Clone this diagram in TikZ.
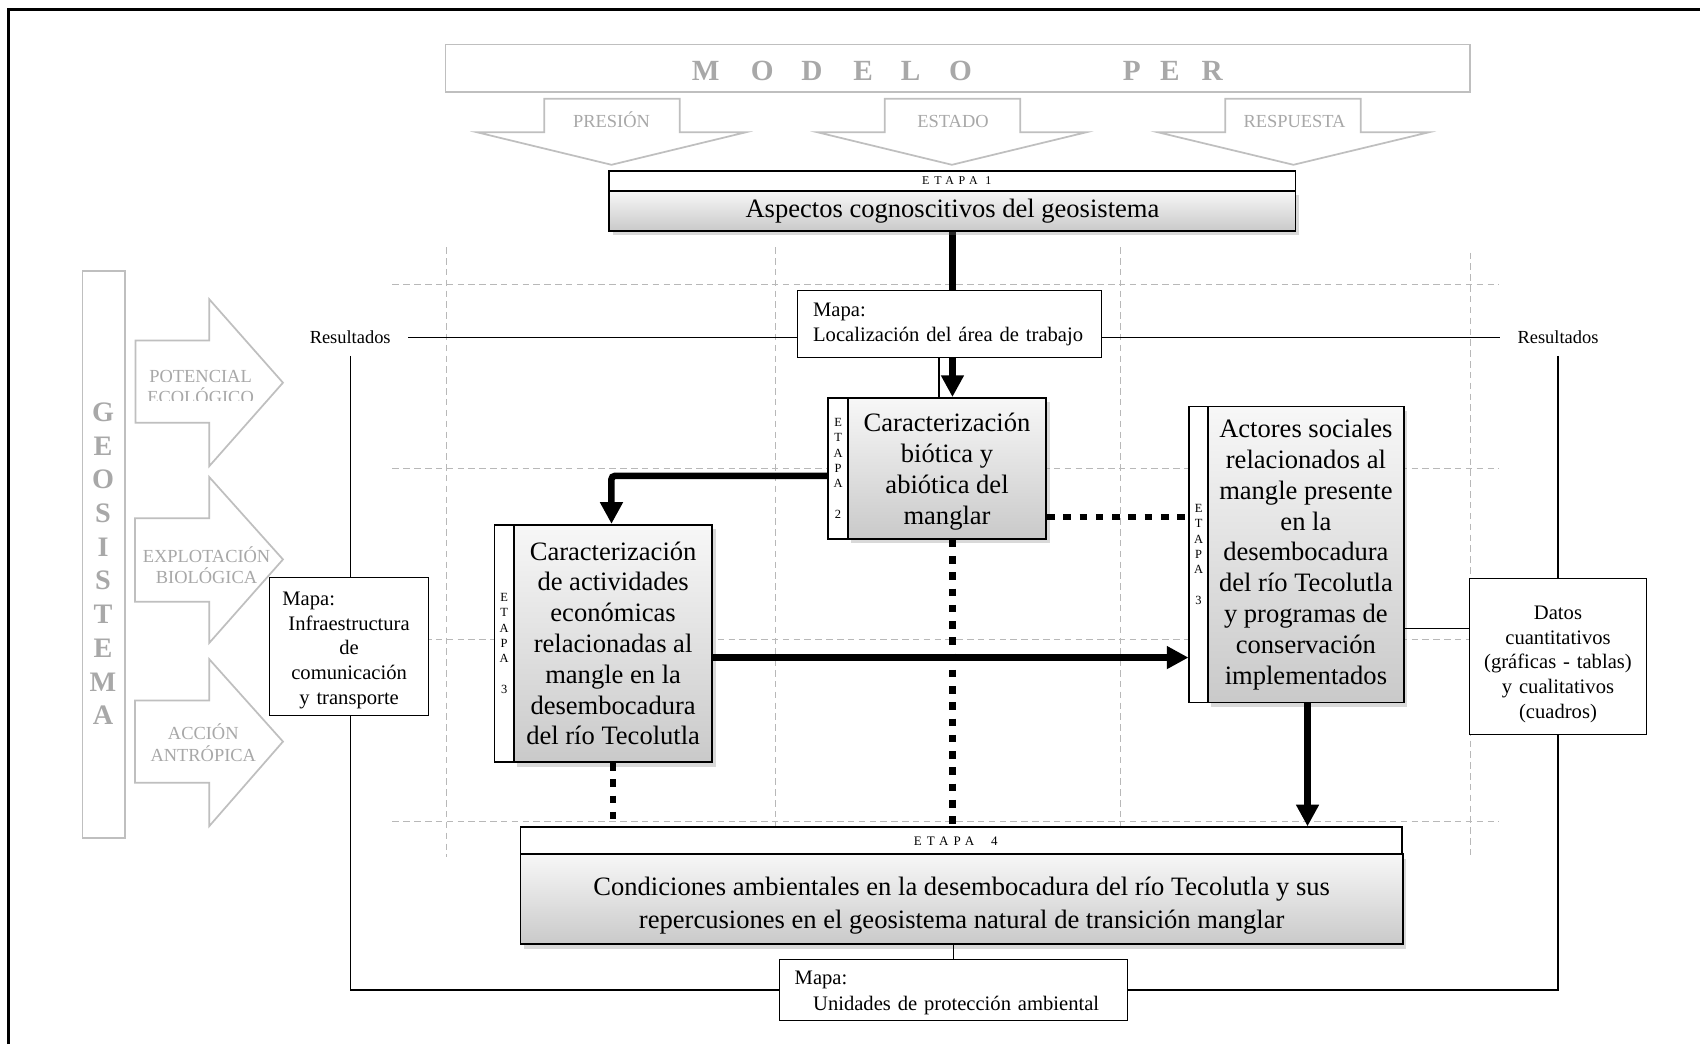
\documentclass[tikz,border=0pt]{standalone}
\usepackage{fontspec}
\setmainfont{Liberation Serif}
\usetikzlibrary{arrows.meta,shadows,calc}
\pgfdeclarelayer{back}
\pgfsetlayers{back,main}
\definecolor{pergray}{HTML}{BFBFBF}
\definecolor{pertext}{HTML}{A8A8A8}
\definecolor{gridgray}{HTML}{B8B8B8}
\newcommand\fsz[2]{\fontsize{#1}{#2}\selectfont}
\newcommand\topstrut[1]{\rule{0pt}{#1}}

\tikzset{
  stagebox/.style={draw=black, line width=1.6pt, top color=gray!6, bottom color=gray!42,
    drop shadow={shadow xshift=3pt, shadow yshift=-4pt, opacity=0.3},
    inner sep=0pt, align=center, font=\fsz{24.5}{28.4}},
  stagehead/.style={draw=black, line width=1.6pt, fill=white, inner sep=0pt,
    font=\fsz{11}{13}\addfontfeature{LetterSpace=40}},
  stripbox/.style={draw=black, line width=1.6pt, fill=white, inner sep=0pt,
    align=center, font=\fsz{11.5}{14.2}},
  mapbox/.style={draw=black, line width=0.9pt, fill=white, inner sep=0pt,
    font=\fsz{19}{22.7}},
  perarrow/.style={draw=pergray, line width=1.6pt, fill=white, line join=miter},
  pertxt/.style={text=pertext, font=\fsz{17}{19.5}, align=center, inner sep=0pt},
  perletter/.style={text=pertext, font=\fsz{27}{30}\bfseries, inner sep=0pt},
  guide/.style={draw=gridgray, line width=0.8pt, dash pattern=on 6pt off 4pt},
  flow/.style={line width=6pt, -{Triangle[length=20pt,width=20pt]}},
  dotflow/.style={line width=6pt, dash pattern=on 7pt off 8pt},
  link/.style={line width=1.2pt},
  restext/.style={font=\fsz{17}{20}, inner sep=2pt}
}

\begin{document}
\begin{tikzpicture}[x=1pt,y=-1pt]
\useasboundingbox (0,0) rectangle (1568,963);

% outer frame
\draw[line width=2.5pt] (8,963) -- (8,9) -- (1568,9);

% dashed guide grid
\begin{pgfonlayer}{back}
  \foreach \gy in {262,432,590,758}
    \draw[guide] (362,\gy) -- (1383,\gy);
  \foreach \gx/\gt in {412/228,715/228,1033/228,1356/233}
    \draw[guide] (\gx,\gt) -- (\gx,790);
\end{pgfonlayer}

% PER model banner
\draw[perarrow] (411,41) rectangle (1356,85);
\foreach \ch/\cx [count=\i] in {M/651,O/703,D/749,E/796,L/840,O/886,P/1044,E/1079,R/1118}
  \node[perletter] (per\i) at (\cx,65) {\ch};

% PER block arrows
\draw[perarrow] (502,91) -- (627,91) -- (627,122) -- (688,122) -- (564,152) -- (440,122) -- (502,122) -- cycle;
\draw[perarrow] (816,91) -- (941,91) -- (941,122) -- (1002,122) -- (878,152) -- (754,122) -- (816,122) -- cycle;
\draw[perarrow] (1130,91) -- (1255,91) -- (1255,122) -- (1318,122) -- (1193,152) -- (1068,122) -- (1130,122) -- cycle;
\node[pertxt] (presion) at (564,110) {PRESIÓN};
\node[pertxt] (estado) at (879,112) {ESTADO};
\node[pertxt] (respuesta) at (1194,112) {RESPUESTA};

% geosystem column and its block arrows
\draw[perarrow] (76,250) rectangle (115,773);
\node[text=pertext, font=\fsz{26}{31.1}\bfseries, align=center, inner sep=0pt] (geo) at (95,520)
  {G\\E\\O\\S\\I\\S\\T\\E\\M\\A};
\draw[perarrow] (125,314) -- (193,314) -- (193,276) -- (261,353) -- (193,430) -- (193,390) -- (125,390) -- cycle;
\draw[perarrow] (124.5,478) -- (193,478) -- (193,440) -- (261,516) -- (193,593) -- (193,555) -- (124.5,555) -- cycle;
\draw[perarrow] (124.5,646) -- (193,646) -- (193,608) -- (261,684) -- (193,762) -- (193,722) -- (124.5,722) -- cycle;
\begin{scope}
  \clip (120,330) rectangle (262,369);
  \node[pertxt] (potencial) at (185,357) {POTENCIAL\\ECOLÓGICO};
\end{scope}
\node[pertxt] (explotacion) at (190.5,521) {EXPLOTACIÓN\\BIOLÓGICA};
\node[pertxt] (accion) at (187.5,685) {ACCIÓN\\ANTRÓPICA};

% stage 1
\node[stagehead, minimum width=633pt, minimum height=18pt] (e1h) at (878.5,167) {ETAPA 1\hspace*{-8pt}};
\node[stagebox, minimum width=633pt, minimum height=37pt] (e1) at (878.5,194.5)
  {Aspectos cognoscitivos del geosistema};

% stage 2
\node[stripbox, minimum width=18pt, minimum height=130pt] (b2s) at (773,432) {E\\T\\A\\P\\A\\[14.2pt]2};
\node[stagebox, minimum width=183pt, minimum height=130pt] (b2) at (873.5,432)
  {\topstrut{23pt}Caracterización\\biótica y\\abiótica del\\manglar};

% stage 3, economic activities
\node[stripbox, minimum width=18pt, minimum height=219pt] (b3s) at (465,593.5) {E\\T\\A\\P\\A\\[14.2pt]3};
\node[stagebox, minimum width=183pt, minimum height=219pt] (b3) at (565.5,593.5)
  {Caracterización\\de actividades\\económicas\\relacionadas al\\mangle en la\\desembocadura\\del río Tecolutla};

% stage 3, social actors
\node[stripbox, minimum width=17pt, minimum height=273pt] (b3bs) at (1105.5,511.5) {E\\T\\A\\P\\A\\[14.2pt]3};
\node[stagebox, minimum width=181pt, minimum height=273pt] (b3b) at (1204.5,511.5)
  {Actores sociales\\relacionados al\\mangle presente\\en la\\desembocadura\\del río Tecolutla\\y programas de\\conservación\\implementados};

% stage 4
\node[stagehead, minimum width=813pt, minimum height=25pt, font=\fsz{12}{14}\addfontfeature{LetterSpace=40}] (e4h) at (886.5,775.5) {ETAPA~~4\hspace*{10pt}};
\node[stagebox, minimum width=814pt, minimum height=83pt, font=\fsz{24.5}{30}] (e4) at (887,829.5)
  {\topstrut{29pt}Condiciones ambientales en la desembocadura del río Tecolutla y sus\\repercusiones en el geosistema natural de transición manglar};

% map and data boxes
\node[mapbox, minimum width=280pt, minimum height=62pt, text width=252pt, align=left] (m1) at (876,299)
  {Mapa:\\\mbox{Localización del área de trabajo}};
\node[mapbox, minimum width=146pt, minimum height=127pt, text width=123pt, align=center] (m2) at (322,596.5)
  {\topstrut{19pt}Mapa:\hfill\mbox{}\\Infraestructura\\de\\comunicación\\y transporte};
\node[mapbox, minimum width=164pt, minimum height=143pt, text width=150pt, align=center] (m3) at (1437,605.5)
  {\topstrut{27pt}Datos\\cuantitativos\\(gráficas - tablas)\\y cualitativos\\(cuadros)};
\node[mapbox, minimum width=321pt, minimum height=56pt, text width=293pt, align=left, font=\fsz{19}{24}] (m4) at (879.5,913)
  {\topstrut{19pt}Mapa:\\\hspace*{17pt}Unidades de protección ambiental};

% results labels
\node[restext] (resL) at (323,311) {Resultados};
\node[restext] (resR) at (1437,311) {Resultados};

% connectors running behind the boxes
\begin{pgfonlayer}{back}
  \draw[link, shorten <=14pt, shorten >=14pt] (resL.east) -- (resR.west);
  \draw[link, shorten <=9pt] (resL.south) |- (m4.west);
  \draw[link, shorten <=9pt] (resR.south) |- (m4.east);
  \draw[flow] (e1.south) -- (e1.south |- b2.north);
\end{pgfonlayer}

% thin links
\draw[link] ([xshift=-10pt]m1.south) -- ([xshift=-10pt]m1.south |- b2.north);
\draw[link] ([yshift=-68.5pt]b3b.east) -- ([yshift=-68.5pt]b3b.east -| m3.west);
\draw[link] (m4.north |- e4.south) -- (m4.north);

% main flow
\draw[flow, rounded corners=3pt] ([yshift=-7pt]b2s.west) -| ([xshift=-1.5pt]b3.north);
\draw[flow] ([yshift=-13pt]b3.east) -- ([yshift=-13pt]b3.east -| b3bs.west);
\draw[flow] ([xshift=1.5pt]b3b.south) -- ([xshift=1.5pt]b3b.south |- e4h.north);

% dotted relations
\draw[dotflow] ([yshift=-45pt]b2.east) -- ([yshift=-45pt]b2.east -| b3bs.west);
\draw[dotflow] (b2.south -| e1.south) -- (e4h.north -| e1.south);
\draw[dotflow] (b3.south) -- (b3.south |- e4h.north);
\end{tikzpicture}
\end{document}
